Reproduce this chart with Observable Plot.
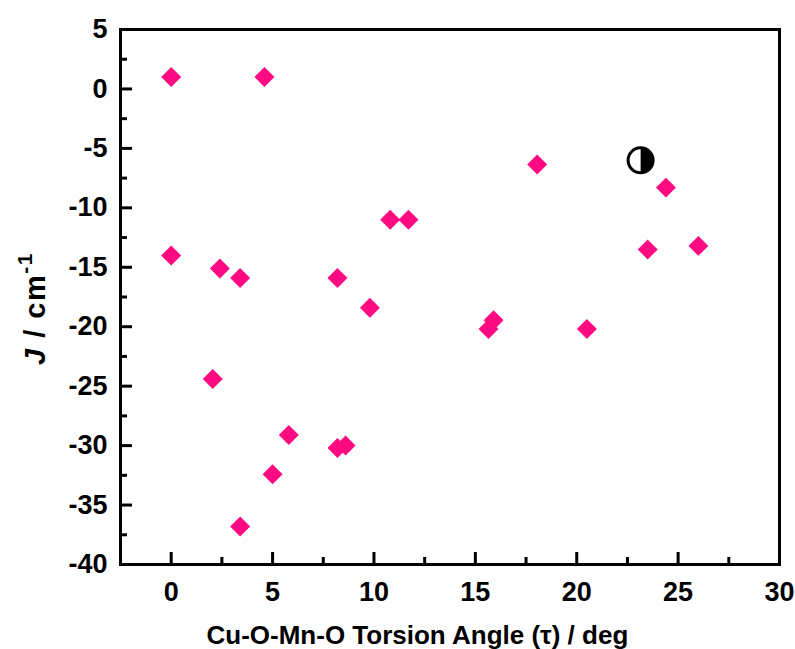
<!DOCTYPE html>
<html><head><meta charset="utf-8">
<script src="https://cdn.jsdelivr.net/npm/d3@7"></script>
<script src="https://cdn.jsdelivr.net/npm/@observablehq/plot@0.6"></script>
<style>
html,body{margin:0;padding:0;background:#fff;}
#chart{width:795px;height:649px;}
</style></head><body><div id="chart"></div>
<script>
// Torsion angle (deg) and J (cm^-1) for the pink diamond series
const torsion = [0, 4.6, 0, 2.4, 3.4, 8.2, 9.8, 2.05, 5.8, 8.2, 8.6, 5.0, 3.4, 10.8, 11.7, 15.9, 15.65, 18.05, 24.4, 23.5, 26.0, 20.5];
const jValues = [1.0, 1.0, -14.0, -15.1, -15.9, -15.9, -18.4, -24.4, -29.1, -30.2, -30.0, -32.4, -36.8, -11.0, -11.0, -19.45, -20.2, -6.35, -8.3, -13.5, -13.2, -20.2];
// Half-filled circle point
const refTorsion = [23.15];
const refJ = [-6.0];
// Ticks
const xMajor = [0, 5, 10, 15, 20, 25, 30];
const xMinor = [-2.5, 2.5, 7.5, 12.5, 17.5, 22.5, 27.5];
const yMajor = [-40, -35, -30, -25, -20, -15, -10, -5, 0, 5];
const yMinor = [-37.5, -32.5, -27.5, -22.5, -17.5, -12.5, -7.5, -2.5, 2.5];
const xTitle = "Cu-O-Mn-O Torsion Angle (τ) / deg";

const pinkData = torsion.map((x, i) => ({x, y: jValues[i]}));
const refData = refTorsion.map((x, i) => ({x, y: refJ[i]}));

const halfRight = {
  draw(ctx, size) {
    const r = Math.sqrt(size / Math.PI);
    ctx.moveTo(0, -r);
    ctx.arc(0, 0, r, -Math.PI / 2, Math.PI / 2);
    ctx.closePath();
  }
};

const font = "'Liberation Sans', Arial, Helvetica, sans-serif";
const pink = "#ff0a82";
const fmt = d => String(d);

const plot = Plot.plot({
  width: 795, height: 649,
  marginLeft: 120, marginTop: 29, marginRight: 16, marginBottom: 85,
  x: {domain: [-2.5, 30]},
  y: {domain: [-40, 5]},
  style: {fontFamily: font, fontWeight: "bold", fontSize: "27px", color: "#000", background: "#fff", overflow: "visible"},
  marks: [
    Plot.axisX(xMinor, {tickSize: -7, strokeWidth: 3, fill: "none"}),
    Plot.axisX(xMajor, {tickSize: -12, strokeWidth: 3, fill: "none"}),
    Plot.axisX(xMajor, {tickSize: 0, tickPadding: 17, tickFormat: fmt, fontSize: 27, fontWeight: "bold", label: null}),
    Plot.axisY(yMinor, {tickSize: -7, strokeWidth: 3, fill: "none"}),
    Plot.axisY(yMajor, {tickSize: -12, strokeWidth: 3, fill: "none"}),
    Plot.axisY(yMajor, {tickSize: 0, tickPadding: 13, tickFormat: fmt, fontSize: 27, fontWeight: "bold", label: null}),
    Plot.frame({stroke: "#000", strokeWidth: 3}),
    Plot.dot(pinkData, {x: "x", y: "y", symbol: "diamond2", r: 9, fill: pink, stroke: "none"}),
    Plot.dot(refData, {x: "x", y: "y", symbol: "circle", r: 12.5, fill: "#fff", stroke: "#000", strokeWidth: 3}),
    Plot.dot(refData, {x: "x", y: "y", symbol: halfRight, r: 12.5, fill: "#000", stroke: "none"}),
    Plot.text([xTitle], {frameAnchor: "bottom-left", textAnchor: "start", text: d => d, dx: 86, dy: 71, lineAnchor: "middle", fontSize: 26, fontWeight: "bold"})
  ]
});

document.getElementById("chart").appendChild(plot);

// Y-axis title with italic J and superscript -1
const yr = plot.scale("y").range;
const cy = (yr[0] + yr[1]) / 2 + 12;
const t = d3.select(plot).append("text")
  .attr("transform", `translate(45,${cy}) rotate(-90)`)
  .attr("text-anchor", "middle")
  .attr("font-family", font)
  .attr("font-weight", "bold")
  .attr("font-size", 29)
  .attr("letter-spacing", "1.5px")
  .attr("fill", "#000");
t.append("tspan").attr("font-style", "italic").text("J");
t.append("tspan").text(" / cm");
t.append("tspan").attr("font-size", 21).attr("dy", -13).text("-1");
</script>
</body></html>
